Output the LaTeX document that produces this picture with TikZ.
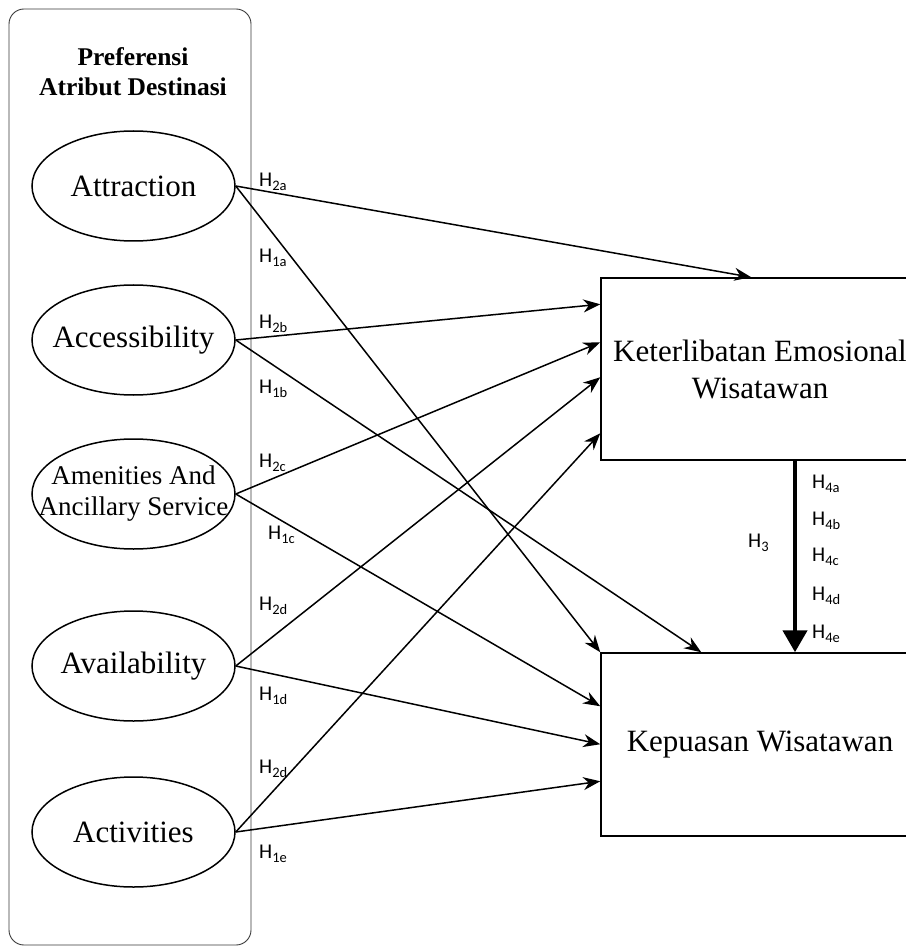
\documentclass[tikz,border=0pt]{standalone}
\usepackage{fontspec}
\setmainfont{Liberation Serif}
\newfontfamily\lblfont{Carlito}
\usetikzlibrary{arrows.meta, positioning, calc, shapes.geometric}
\definecolor{inkblack}{HTML}{000000}
\definecolor{framegray}{HTML}{3A3A3A}
\newcommand{\hlab}[1]{H\raisebox{-4pt}{\fontsize{14.5}{14.5}\selectfont #1}}

\begin{document}
\begin{tikzpicture}[x=1pt, y=-1pt,
  >={Stealth[length=17pt, width=13pt]},
  every node/.style={text=inkblack},
  construct/.style={ellipse, draw=inkblack, line width=1.5pt, minimum width=203pt, minimum height=110pt, inner xsep=-30pt, inner ysep=0pt, align=center, font=\fontsize{31}{33}\selectfont},
  outcome/.style={rectangle, draw=inkblack, line width=1.5pt, minimum width=318pt, align=center, font=\fontsize{31}{37}\selectfont},
  hlabel/.style={anchor=base west, inner sep=0pt, font=\lblfont\fontsize{21}{24}\selectfont},
  link/.style={->, draw=inkblack, line width=1.5pt},
]

\useasboundingbox (0,0) rectangle (905,949);

% Frame of the exogenous constructs
\draw[framegray, line width=0.9pt, rounded corners=15pt] (9,9) rectangle (251,945);
\node[font=\bfseries\fontsize{25.5}{30}\selectfont, align=center] (title) at (133,72) {Preferensi\\Atribut Destinasi};

% Destination attributes
\node[construct] (attr) at (133.5,186) {Attraction};
\node[construct] (acce) at (133.5,340) {Accessibility};
\node[construct, font=\fontsize{27}{31}\selectfont] (amen) at (133.5,494) {Amenities And\\Ancillary Service};
\node[construct] (avai) at (133.5,666) {Availability};
\node[construct] (acti) at (133.5,832) {Activities};

% Outcome boxes
\node[outcome, minimum height=182pt] (ke) at (760,369) {Keterlibatan Emosional\\Wisatawan};
\node[outcome, minimum height=183pt] (kw) at (760,744.5) {Kepuasan Wisatawan};

% Paths to emotional involvement
\draw[link] (attr.east) -- ([xshift=151pt]ke.north west);
\draw[link] (acce.east) -- ([yshift=-27pt]ke.north west);
\draw[link] (amen.east) -- ([yshift=-65pt]ke.north west);
\draw[link] (avai.east) -- ([yshift=-100pt]ke.north west);
\draw[link] (acti.east) -- ([yshift=-156pt]ke.north west);

% Paths to satisfaction
\draw[link] (attr.east) -- (kw.north west);
\draw[link] (acce.east) -- ([xshift=101pt]kw.north west);
\draw[link] (amen.east) -- ([yshift=-54pt]kw.north west);
\draw[link] (avai.east) -- ([yshift=-92pt]kw.north west);
\draw[link] (acti.east) -- ([yshift=-129pt]kw.north west);

% Mediating path
\draw[inkblack, line width=4.5pt, -{Triangle[length=22pt, width=24pt]}] ([xshift=35pt]ke.south) -- ([xshift=35pt]kw.north);

% Hypothesis labels
\node[hlabel] (l2a) at (259,187) {\hlab{2a}};
\node[hlabel] (l1a) at (259,262) {\hlab{1a}};
\node[hlabel] (l2b) at (259,328) {\hlab{2b}};
\node[hlabel] (l1b) at (259,393) {\hlab{1b}};
\node[hlabel] (l2c) at (259,467) {\hlab{2c}};
\node[hlabel] (l1c) at (268,539) {\hlab{1c}};
\node[hlabel] (l2d) at (259,610) {\hlab{2d}};
\node[hlabel] (l1d) at (259,700) {\hlab{1d}};
\node[hlabel] (l2e) at (259,773) {\hlab{2d}};
\node[hlabel] (l1e) at (259,858) {\hlab{1e}};
\node[hlabel] (l3) at (748,547) {\hlab{3}};
\node[hlabel] (l4a) at (812,488) {\hlab{4a}};
\node[hlabel] (l4b) at (812,525) {\hlab{4b}};
\node[hlabel] (l4c) at (812,561) {\hlab{4c}};
\node[hlabel] (l4d) at (812,600) {\hlab{4d}};
\node[hlabel] (l4e) at (812,638) {\hlab{4e}};

\end{tikzpicture}
\end{document}
